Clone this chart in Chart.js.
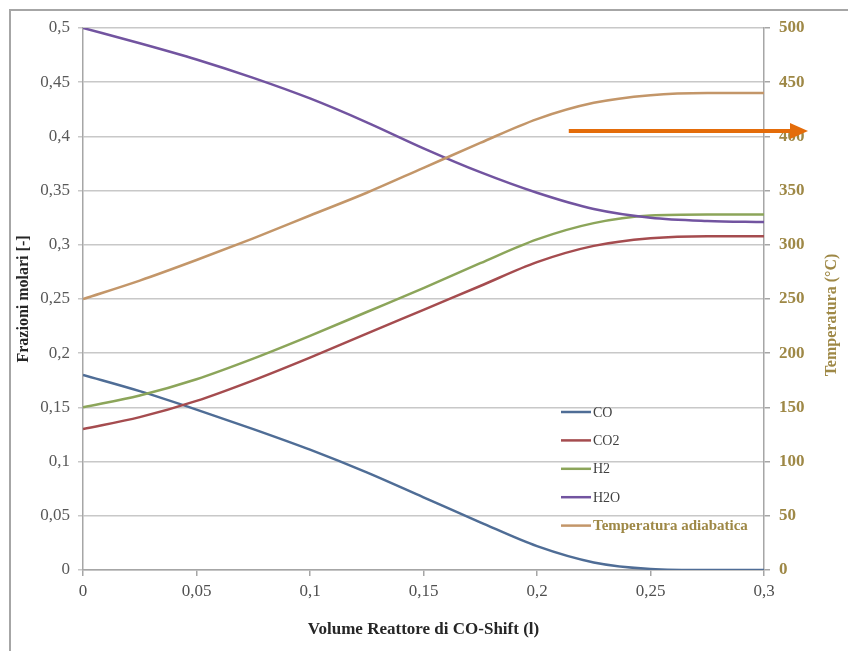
<!DOCTYPE html>
<html>
<head>
<meta charset="utf-8">
<script src="https://cdn.jsdelivr.net/npm/chart.js@4.4.1/dist/chart.umd.min.js"></script>
<style>
  html, body { margin: 0; padding: 0; background: #fff; }
</style>
</head>
<body>
<canvas id="chart" width="848" height="651"></canvas>
<script>
// --- dati ---
const volume = [0, 0.025, 0.05, 0.075, 0.1, 0.125, 0.15, 0.175, 0.2, 0.225, 0.25, 0.275, 0.3];
const co  = [0.18, 0.165, 0.148, 0.130, 0.111, 0.090, 0.067, 0.044, 0.022, 0.007, 0.001, 0.0, 0.0];
const co2 = [0.13, 0.141, 0.156, 0.175, 0.196, 0.218, 0.240, 0.262, 0.284, 0.299, 0.306, 0.308, 0.308];
const h2  = [0.15, 0.161, 0.176, 0.195, 0.216, 0.238, 0.260, 0.283, 0.305, 0.320, 0.327, 0.328, 0.328];
const h2o = [0.50, 0.486, 0.471, 0.454, 0.435, 0.413, 0.389, 0.367, 0.348, 0.333, 0.325, 0.322, 0.321];
const temperatura = [250, 267, 286, 306, 327, 348, 371, 394, 416, 431, 438, 440, 440];

const seriesNames = ['CO', 'CO2', 'H2', 'H2O', 'Temperatura adiabatica'];
const seriesColors = ['#4f6d96', '#a54c4f', '#8ca55a', '#7254a0', '#c39669'];

const xTickLabels = ['0', '0,05', '0,1', '0,15', '0,2', '0,25', '0,3'];
const yTickLabels = ['0', '0,05', '0,1', '0,15', '0,2', '0,25', '0,3', '0,35', '0,4', '0,45', '0,5'];
const tempTickLabels = ['0', '50', '100', '150', '200', '250', '300', '350', '400', '450', '500'];

const arrowLevel = 405; // la freccia arancione indica ~400 °C

const FONT = "'Liberation Serif', 'Times New Roman', serif";
const GOLD = '#9e8846';

const toPoints = (ys) => volume.map((x, i) => ({ x: x, y: ys[i] }));
const allSeries = [co, co2, h2, h2o, temperatura];

// cornice, titolo destro, legenda e freccia
const extras = {
    id: 'extras',
    beforeDraw(chart) {
        const ctx = chart.ctx;
        ctx.save();
        ctx.fillStyle = '#fff';
        ctx.fillRect(0, 0, chart.width, chart.height);
        ctx.strokeStyle = '#a6a6a6';
        ctx.lineWidth = 2;
        ctx.beginPath();
        ctx.moveTo(10, chart.height);
        ctx.lineTo(10, 10);
        ctx.lineTo(chart.width, 10);
        ctx.stroke();
        ctx.restore();
    },
    afterDraw(chart) {
        const ctx = chart.ctx;
        const area = chart.chartArea;
        ctx.save();

        // titolo asse destro (letto dal basso verso l'alto)
        ctx.save();
        ctx.translate(832, 315);
        ctx.rotate(-Math.PI / 2);
        ctx.font = 'bold 16px ' + FONT;
        ctx.fillStyle = GOLD;
        ctx.textAlign = 'center';
        ctx.textBaseline = 'middle';
        ctx.fillText('Temperatura (°C)', 0, 0);
        ctx.restore();

        // legenda
        const lx = area.left + 478;
        let ly = 412;
        seriesNames.forEach((name, i) => {
            ctx.strokeStyle = seriesColors[i];
            ctx.lineWidth = 2.5;
            ctx.beginPath();
            ctx.moveTo(lx, ly);
            ctx.lineTo(lx + 30, ly);
            ctx.stroke();
            const last = i === seriesNames.length - 1;
            ctx.font = (last ? 'bold 15px ' : '14px ') + FONT;
            ctx.fillStyle = last ? GOLD : '#404040';
            ctx.textBaseline = 'middle';
            ctx.fillText(name, lx + 32, ly + 1);
            ly += 28.4;
        });

        // freccia
        const yT = chart.scales.yT;
        const x = chart.scales.x;
        const ay = yT.getPixelForValue(arrowLevel);
        const x0 = x.getPixelForValue(0.214);
        const tip = area.right + 44;
        ctx.strokeStyle = '#e46c0a';
        ctx.fillStyle = '#e46c0a';
        ctx.lineWidth = 4;
        ctx.beginPath();
        ctx.moveTo(x0, ay);
        ctx.lineTo(tip - 14, ay);
        ctx.stroke();
        ctx.beginPath();
        ctx.moveTo(tip, ay);
        ctx.lineTo(tip - 18, ay - 8);
        ctx.lineTo(tip - 18, ay + 8);
        ctx.closePath();
        ctx.fill();

        ctx.restore();
    }
};

const chart = new Chart(document.getElementById('chart').getContext('2d'), {
    type: 'line',
    data: {
        datasets: allSeries.map((ys, i) => ({
            label: seriesNames[i],
            data: toPoints(ys),
            yAxisID: i === 4 ? 'yT' : 'y',
            borderColor: seriesColors[i],
            borderWidth: 2.5,
            pointRadius: 0,
            fill: false,
            cubicInterpolationMode: 'monotone',
            order: 5 - i
        }))
    },
    options: {
        responsive: false,
        animation: false,
        layout: { padding: { top: 28, left: 0, right: 0, bottom: 0 } },
        plugins: {
            legend: { display: false },
            tooltip: { enabled: false }
        },
        scales: {
            x: {
                type: 'linear',
                min: 0,
                max: 0.3,
                afterFit: (s) => { s.height = 81; },
                afterBuildTicks: (s) => {
                    s.ticks = xTickLabels.map((t, i) => ({ value: i * 0.05 }));
                },
                ticks: {
                    callback: (v) => xTickLabels[Math.round(v / 0.05)],
                    font: { family: FONT, size: 17 },
                    color: '#505050',
                    padding: 5,
                    maxRotation: 0
                },
                grid: { drawOnChartArea: false, drawTicks: true, tickLength: 6, color: '#a6a6a6', lineWidth: 1.5 },
                border: { color: '#a6a6a6', width: 1.5 },
                title: {
                    display: true,
                    text: 'Volume Reattore di CO-Shift (l)',
                    font: { family: FONT, size: 17, weight: 'bold' },
                    color: '#262626',
                    padding: { top: 0, bottom: 11 }
                }
            },
            y: {
                position: 'left',
                min: 0,
                max: 0.5,
                afterFit: (s) => { s.width = 83; },
                afterBuildTicks: (s) => {
                    s.ticks = yTickLabels.map((t, i) => ({ value: i * 0.05 }));
                },
                ticks: {
                    callback: (v) => yTickLabels[Math.round(v / 0.05)],
                    font: { family: FONT, size: 17 },
                    color: '#595959',
                    padding: 8
                },
                grid: { color: '#c8c8c8', lineWidth: 1.5, tickLength: 5 },
                border: { color: '#a6a6a6', width: 1.5 },
                title: {
                    display: true,
                    text: 'Frazioni molari [-]',
                    font: { family: FONT, size: 16, weight: 'bold' },
                    color: '#262626',
                    padding: { top: 14, bottom: 0 }
                }
            },
            yT: {
                position: 'right',
                min: 0,
                max: 500,
                afterFit: (s) => { s.width = 84; },
                afterBuildTicks: (s) => {
                    s.ticks = tempTickLabels.map((t, i) => ({ value: i * 50 }));
                },
                ticks: {
                    callback: (v) => tempTickLabels[Math.round(v / 50)],
                    font: { family: FONT, size: 17, weight: 'bold' },
                    color: GOLD,
                    padding: 9
                },
                grid: { drawOnChartArea: false, color: '#a6a6a6', lineWidth: 1.5, tickLength: 6 },
                border: { color: '#a6a6a6', width: 1.5 },
                title: { display: false }
            }
        }
    },
    plugins: [extras]
});
</script>
</body>
</html>
